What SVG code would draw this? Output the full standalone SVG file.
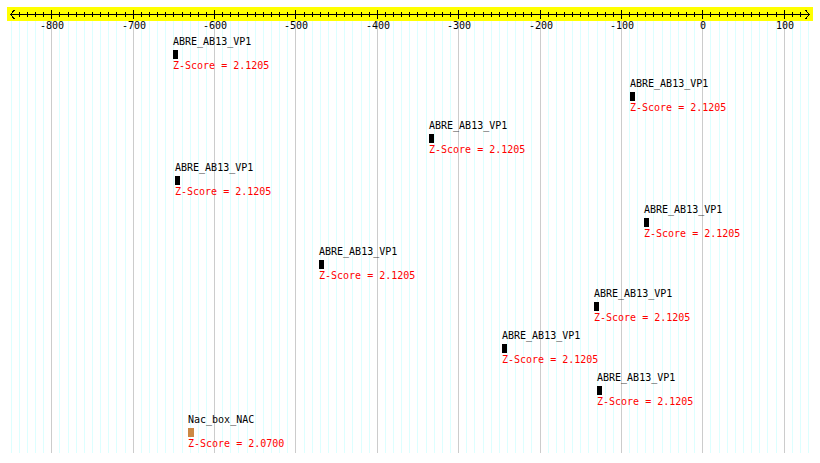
<svg xmlns="http://www.w3.org/2000/svg" width="820" height="463" viewBox="0 0 820 463">
<style>
text{font-family:"DejaVu Sans Mono","Liberation Mono",monospace;font-size:10px}
.lbl{fill:#000}
.z{fill:#ff0000}
.tl{fill:#000;text-anchor:middle}
.grid{stroke:#ddffff;stroke-width:1;shape-rendering:crispEdges}
.major{stroke:#cccccc;stroke-width:1;shape-rendering:crispEdges}
.tick{stroke:#000;stroke-width:1;shape-rendering:crispEdges;fill:none}
.box{fill:#000}
.nac{fill:#cc8844}
</style>
<rect width="820" height="463" fill="#ffffff"/>
<g id="grid">
<path class="grid" d="M11.5 21V453M19.5 21V453M27.5 21V453M35.5 21V453M43.5 21V453M59.5 21V453M68.5 21V453M76.5 21V453M84.5 21V453M92.5 21V453M100.5 21V453M108.5 21V453M116.5 21V453M125.5 21V453M141.5 21V453M149.5 21V453M157.5 21V453M165.5 21V453M173.5 21V453M182.5 21V453M190.5 21V453M198.5 21V453M206.5 21V453M222.5 21V453M230.5 21V453M238.5 21V453M247.5 21V453M255.5 21V453M263.5 21V453M271.5 21V453M279.5 21V453M287.5 21V453M304.5 21V453M312.5 21V453M320.5 21V453M328.5 21V453M336.5 21V453M344.5 21V453M352.5 21V453M361.5 21V453M369.5 21V453M385.5 21V453M393.5 21V453M401.5 21V453M409.5 21V453M417.5 21V453M426.5 21V453M434.5 21V453M442.5 21V453M450.5 21V453M466.5 21V453M474.5 21V453M483.5 21V453M491.5 21V453M499.5 21V453M507.5 21V453M515.5 21V453M523.5 21V453M531.5 21V453M548.5 21V453M556.5 21V453M564.5 21V453M572.5 21V453M580.5 21V453M588.5 21V453M597.5 21V453M605.5 21V453M613.5 21V453M629.5 21V453M637.5 21V453M645.5 21V453M653.5 21V453M662.5 21V453M670.5 21V453M678.5 21V453M686.5 21V453M694.5 21V453M710.5 21V453M719.5 21V453M727.5 21V453M735.5 21V453M743.5 21V453M751.5 21V453M759.5 21V453M767.5 21V453M776.5 21V453M792.5 21V453M800.5 21V453M808.5 21V453"/>
<path class="major" d="M51.5 21V453M133.5 21V453M214.5 21V453M295.5 21V453M377.5 21V453M458.5 21V453M540.5 21V453M621.5 21V453M702.5 21V453M784.5 21V453"/>
</g>
<g id="axis">
<rect x="7" y="7" width="806" height="14" fill="#ffff00"/>
<path class="tick" d="M10 14.5H810"/>
<path class="tick" d="M14.5 10L10.5 14.5L14.5 19M805.5 10L809.5 14.5L805.5 19" shape-rendering="auto"/>
<path class="tick" d="M19.5 12V17M27.5 12V17M35.5 12V17M43.5 12V17M59.5 12V17M68.5 12V17M76.5 12V17M84.5 12V17M92.5 12V17M100.5 12V17M108.5 12V17M116.5 12V17M125.5 12V17M141.5 12V17M149.5 12V17M157.5 12V17M165.5 12V17M173.5 12V17M182.5 12V17M190.5 12V17M198.5 12V17M206.5 12V17M222.5 12V17M230.5 12V17M238.5 12V17M247.5 12V17M255.5 12V17M263.5 12V17M271.5 12V17M279.5 12V17M287.5 12V17M304.5 12V17M312.5 12V17M320.5 12V17M328.5 12V17M336.5 12V17M344.5 12V17M352.5 12V17M361.5 12V17M369.5 12V17M385.5 12V17M393.5 12V17M401.5 12V17M409.5 12V17M417.5 12V17M426.5 12V17M434.5 12V17M442.5 12V17M450.5 12V17M466.5 12V17M474.5 12V17M483.5 12V17M491.5 12V17M499.5 12V17M507.5 12V17M515.5 12V17M523.5 12V17M531.5 12V17M548.5 12V17M556.5 12V17M564.5 12V17M572.5 12V17M580.5 12V17M588.5 12V17M597.5 12V17M605.5 12V17M613.5 12V17M629.5 12V17M637.5 12V17M645.5 12V17M653.5 12V17M662.5 12V17M670.5 12V17M678.5 12V17M686.5 12V17M694.5 12V17M710.5 12V17M719.5 12V17M727.5 12V17M735.5 12V17M743.5 12V17M751.5 12V17M759.5 12V17M767.5 12V17M776.5 12V17M792.5 12V17M800.5 12V17"/>
<path class="tick" d="M51.5 10V19M133.5 10V19M214.5 10V19M295.5 10V19M377.5 10V19M458.5 10V19M540.5 10V19M621.5 10V19M702.5 10V19M784.5 10V19"/>
<text class="tl" x="52" y="29">-800</text>
<text class="tl" x="134" y="29">-700</text>
<text class="tl" x="215" y="29">-600</text>
<text class="tl" x="296" y="29">-500</text>
<text class="tl" x="378" y="29">-400</text>
<text class="tl" x="459" y="29">-300</text>
<text class="tl" x="541" y="29">-200</text>
<text class="tl" x="622" y="29">-100</text>
<text class="tl" x="703" y="29">0</text>
<text class="tl" x="785" y="29">100</text>
</g>
<g id="connectors"></g>
<g id="f1"><text class="lbl" x="173" y="45">ABRE_AB13_VP1</text><rect class="box" x="173" y="50" width="5" height="9"/><text class="z" x="173" y="69">Z-Score = 2.1205</text></g>
<g id="f2"><text class="lbl" x="630" y="87">ABRE_AB13_VP1</text><rect class="box" x="630" y="92" width="5" height="9"/><text class="z" x="630" y="111">Z-Score = 2.1205</text></g>
<g id="f3"><text class="lbl" x="429" y="129">ABRE_AB13_VP1</text><rect class="box" x="429" y="134" width="5" height="9"/><text class="z" x="429" y="153">Z-Score = 2.1205</text></g>
<g id="f4"><text class="lbl" x="175" y="171">ABRE_AB13_VP1</text><rect class="box" x="175" y="176" width="5" height="9"/><text class="z" x="175" y="195">Z-Score = 2.1205</text></g>
<g id="f5"><text class="lbl" x="644" y="213">ABRE_AB13_VP1</text><rect class="box" x="644" y="218" width="5" height="9"/><text class="z" x="644" y="237">Z-Score = 2.1205</text></g>
<g id="f6"><text class="lbl" x="319" y="255">ABRE_AB13_VP1</text><rect class="box" x="319" y="260" width="5" height="9"/><text class="z" x="319" y="279">Z-Score = 2.1205</text></g>
<g id="f7"><text class="lbl" x="594" y="297">ABRE_AB13_VP1</text><rect class="box" x="594" y="302" width="5" height="9"/><text class="z" x="594" y="321">Z-Score = 2.1205</text></g>
<g id="f8"><text class="lbl" x="502" y="339">ABRE_AB13_VP1</text><rect class="box" x="502" y="344" width="5" height="9"/><text class="z" x="502" y="363">Z-Score = 2.1205</text></g>
<g id="f9"><text class="lbl" x="597" y="381">ABRE_AB13_VP1</text><rect class="box" x="597" y="386" width="5" height="9"/><text class="z" x="597" y="405">Z-Score = 2.1205</text></g>
<g id="f10"><text class="lbl" x="188" y="423">Nac_box_NAC</text><rect class="nac" x="188" y="428" width="6" height="9"/><text class="z" x="188" y="447">Z-Score = 2.0700</text></g>
</svg>
